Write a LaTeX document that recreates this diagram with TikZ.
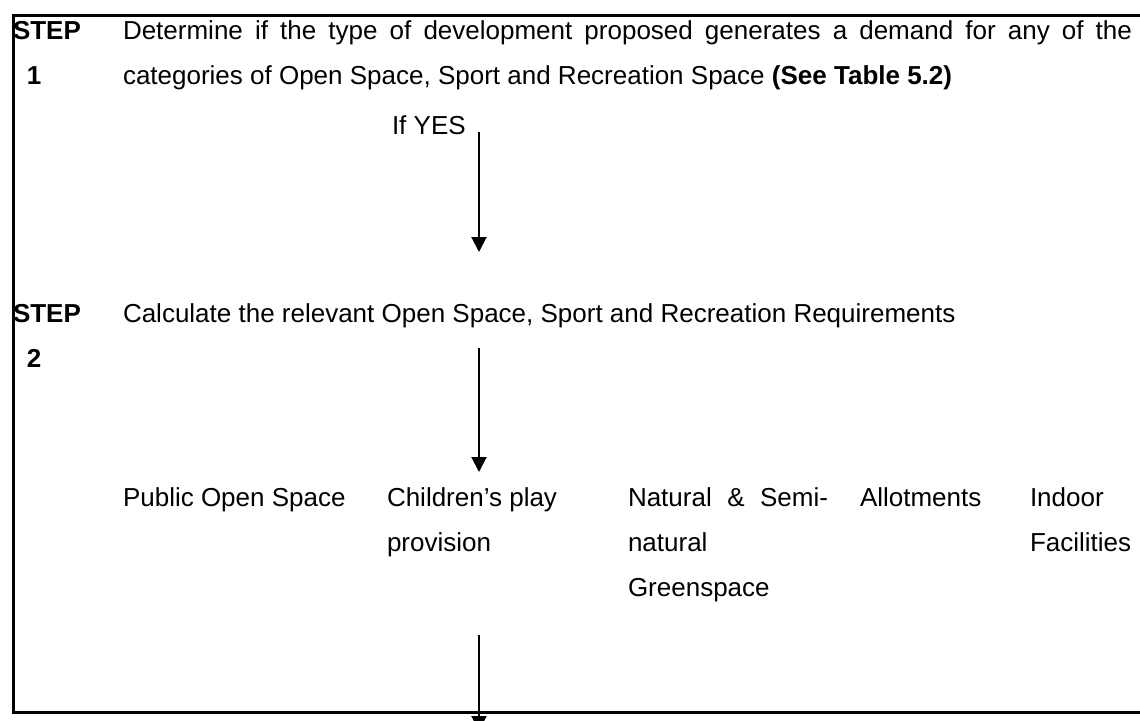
\documentclass[tikz,border=0pt]{standalone}
\usepackage{fontspec}
\setmainfont{Liberation Sans}
\usetikzlibrary{arrows.meta}
\begin{document}
\begin{tikzpicture}[x=1pt,y=-1pt,
  txt/.style={anchor=base west,inner sep=0pt,outer sep=0pt,font=\fontsize{26}{45}\selectfont},
  flow/.style={line width=2pt,-{Triangle[width=15pt,length=15pt]}},
  frame/.style={line width=3pt,line join=miter}]
\fill[white] (0,0) rectangle (1140,720);
\useasboundingbox (0,0) rectangle (1140,720);
% frame (open on the right)
\draw[frame] (1150,15) -- (13.5,15) -- (13.5,712) -- (1150,712);
% step 1
\node[txt,font=\fontsize{26}{45}\selectfont\bfseries] (s1) at (13,39) {STEP};
\node[txt,font=\fontsize{26}{45}\selectfont\bfseries] (n1) at (27,84) {1};
\node[txt] (l1) at (123,39) {\makebox[1009pt][s]{Determine if the type of development proposed generates a demand for any of the}};
\node[txt] (l2) at (123,84) {categories of Open Space, Sport and Recreation Space \textbf{(See Table 5.2)}};
\node[txt] (yes) at (392,134) {If YES};
\coordinate (a1s) at (479,132);
\coordinate (a1e) at (479,252);
\draw[flow] (a1s) -- (a1e);
% step 2
\node[txt,font=\fontsize{26}{45}\selectfont\bfseries] (s2) at (13,322) {STEP};
\node[txt,font=\fontsize{26}{45}\selectfont\bfseries] (n2) at (27,367) {2};
\node[txt] (calc) at (123,322) {Calculate the relevant Open Space, Sport and Recreation Requirements};
\coordinate (a2s) at (479,348);
\coordinate (a2e) at (479,472);
\draw[flow] (a2s) -- (a2e);
% categories
\node[txt] (c1) at (123,506) {Public Open Space};
\node[txt] (c2a) at (387,506) {Children’s play};
\node[txt] (c2b) at (387,551) {provision};
\node[txt] (c3a) at (628,506) {\makebox[200pt][s]{Natural \& Semi-}};
\node[txt] (c3b) at (628,551) {natural};
\node[txt] (c3c) at (628,596) {Greenspace};
\node[txt] (c4) at (860,506) {Allotments};
\node[txt] (c5a) at (1030,506) {Indoor};
\node[txt] (c5b) at (1030,551) {Facilities};
\coordinate (a3s) at (479,635);
\coordinate (a3e) at (479,731);
\draw[flow] (a3s) -- (a3e);
\end{tikzpicture}
\end{document}
